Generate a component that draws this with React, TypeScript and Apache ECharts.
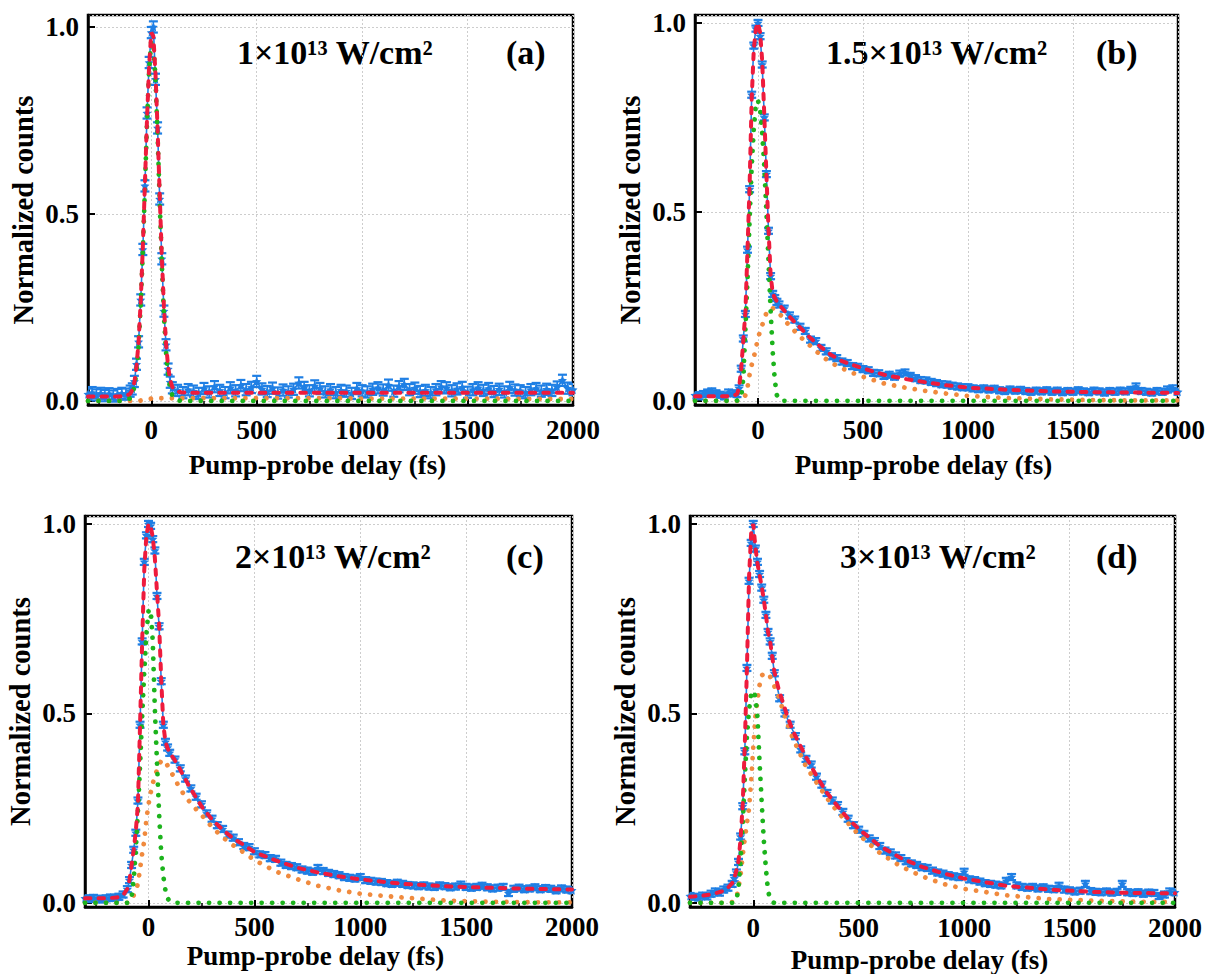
import React, { useEffect, useRef } from 'react';
import * as echarts from 'echarts';

// ---------- shared x grids (fs) ----------
const DELAY = [
  -300, -280, -260, -240, -220, -200, -180, -160, -140, -120, -100,
  -90, -80, -70, -60, -50, -40, -30, -20, -10, 0, 10, 20, 30, 40, 50, 60, 70, 80, 90,
  100, 125, 150, 175, 200, 225, 250, 275, 300, 325, 350, 375, 400, 425, 450, 475,
  500, 525, 550, 575, 600, 625, 650, 675, 700, 725, 750, 775, 800, 825, 850, 875,
  900, 925, 950, 975, 1000, 1025, 1050, 1075, 1100, 1125, 1150, 1175, 1200, 1225,
  1250, 1275, 1300, 1325, 1350, 1375, 1400, 1425, 1450, 1475, 1500, 1525, 1550,
  1575, 1600, 1625, 1650, 1675, 1700, 1725, 1750, 1775, 1800, 1825, 1850, 1875,
  1900, 1925, 1950, 1975, 2000,
];

const FIT_X = [
  -300, -250, -200, -150, -120, -100,
  -90, -80, -70, -60, -50, -40, -30, -20, -10,
  0, 10, 20, 30, 40, 50, 60, 70, 80, 90, 100,
  120, 140, 160, 180, 200,
  250, 300, 350, 400, 450, 500,
  600, 700, 800, 900, 1000,
  1200, 1400, 1600, 1800, 2000,
];

// ---------- panel (a) 1e13 ----------
const BLUE_A = [
  0.018, 0.022, 0.016, 0.02, 0.014, 0.019, 0.013, 0.017, 0.02, 0.018, 0.026,
  0.032, 0.052, 0.098, 0.158, 0.27, 0.405, 0.575, 0.77, 0.905, 0.985, 1.0, 0.86, 0.73, 0.54, 0.38, 0.24, 0.15, 0.085, 0.05,
  0.035,
  0.028, 0.022, 0.03, 0.026, 0.02, 0.033, 0.024, 0.038, 0.028, 0.022,
  0.035, 0.027, 0.041, 0.03, 0.036, 0.052, 0.032, 0.025, 0.034, 0.021,
  0.029, 0.024, 0.031, 0.048, 0.036, 0.027, 0.04, 0.033, 0.024, 0.03,
  0.022, 0.028, 0.026, 0.02, 0.033, 0.027, 0.024, 0.031, 0.035, 0.029,
  0.042, 0.026, 0.038, 0.044, 0.03, 0.034, 0.025, 0.028, 0.022, 0.03,
  0.038, 0.035, 0.027, 0.032, 0.036, 0.023, 0.03, 0.035, 0.028, 0.033,
  0.025, 0.031, 0.024, 0.036, 0.029, 0.027, 0.022, 0.03, 0.033, 0.026,
  0.031, 0.028, 0.037, 0.055, 0.034, 0.03,
];
const ERR_A = 0.015;
const RED_A = [
  0.012, 0.012, 0.012, 0.012, 0.013, 0.019,
  0.029, 0.05, 0.091, 0.16, 0.266, 0.411, 0.582, 0.757, 0.898,
  0.985, 0.975, 0.876, 0.727, 0.552, 0.386, 0.252, 0.154, 0.091, 0.055, 0.037,
  0.026, 0.023, 0.022, 0.022, 0.022,
  0.022, 0.022, 0.022, 0.022, 0.022, 0.022,
  0.022, 0.022, 0.022, 0.022, 0.022,
  0.022, 0.022, 0.022, 0.022, 0.022,
];
const GREEN_A = [
  0, 0, 0, 0, 0.001, 0.007,
  0.017, 0.038, 0.079, 0.148, 0.254, 0.399, 0.57, 0.745, 0.886,
  0.963, 0.954, 0.862, 0.711, 0.535, 0.367, 0.23, 0.131, 0.068, 0.032, 0.014,
  0.002, 0, 0, 0, 0,
  0, 0, 0, 0, 0, 0,
  0, 0, 0, 0, 0,
  0, 0, 0, 0, 0,
];
const ORANGE_A = [
  0, 0, 0, 0, 0, 0,
  0, 0, 0, 0, 0.001, 0.002, 0.003, 0.004, 0.005,
  0.006, 0.007, 0.007, 0.007, 0.007, 0.007, 0.007, 0.007, 0.007, 0.007, 0.007,
  0.007, 0.007, 0.007, 0.007, 0.007,
  0.007, 0.007, 0.007, 0.007, 0.007, 0.007,
  0.007, 0.007, 0.007, 0.007, 0.006,
  0.006, 0.006, 0.006, 0.005, 0.005,
];

// ---------- panel (b) 1.5e13 ----------
const BLUE_B = [
  0.015, 0.012, 0.018, 0.022, 0.025, 0.02, 0.016, 0.012, 0.022, 0.02, 0.018,
  0.033, 0.085, 0.165, 0.23, 0.4, 0.56, 0.81, 0.94, 0.985, 1.0, 0.965, 0.89, 0.75, 0.6, 0.45, 0.33, 0.283, 0.272, 0.262,
  0.255,
  0.244, 0.226, 0.215, 0.196, 0.185, 0.162, 0.158, 0.14, 0.131, 0.118,
  0.113, 0.104, 0.1, 0.092, 0.09, 0.084, 0.081, 0.074, 0.073, 0.066,
  0.069, 0.064, 0.072, 0.075, 0.066, 0.06, 0.055, 0.054, 0.05, 0.047,
  0.044, 0.043, 0.04, 0.038, 0.036, 0.036, 0.033, 0.031, 0.033, 0.03,
  0.032, 0.028, 0.026, 0.03, 0.027, 0.029, 0.026, 0.024, 0.027, 0.025,
  0.028, 0.024, 0.027, 0.023, 0.026, 0.024, 0.028, 0.025, 0.023, 0.027,
  0.025, 0.022, 0.026, 0.024, 0.027, 0.025, 0.029, 0.038, 0.026, 0.024,
  0.022, 0.026, 0.024, 0.03, 0.033, 0.024,
];
const ERR_B = 0.008;
const RED_B = [
  0.012, 0.012, 0.012, 0.012, 0.013, 0.018,
  0.035, 0.085, 0.16, 0.235, 0.4, 0.57, 0.8, 0.93, 0.985,
  1.0, 0.975, 0.9, 0.755, 0.6, 0.455, 0.335, 0.285, 0.272, 0.263, 0.255,
  0.242, 0.229, 0.217, 0.205, 0.194,
  0.166, 0.142, 0.121, 0.105, 0.095, 0.086,
  0.069, 0.058, 0.049, 0.041, 0.035,
  0.029, 0.025, 0.023, 0.022, 0.021,
];
const GREEN_B = [
  0, 0, 0, 0, 0, 0.001,
  0.003, 0.008, 0.06, 0.19, 0.32, 0.48, 0.62, 0.72, 0.785,
  0.795, 0.77, 0.71, 0.62, 0.5, 0.37, 0.24, 0.13, 0.055, 0.015, 0.003,
  0, 0, 0, 0, 0,
  0, 0, 0, 0, 0, 0,
  0, 0, 0, 0, 0,
  0, 0, 0, 0, 0,
];
const ORANGE_B = [
  0, 0, 0, 0, 0, 0,
  0.001, 0.002, 0.005, 0.015, 0.035, 0.07, 0.095, 0.115, 0.14,
  0.165, 0.185, 0.2, 0.218, 0.232, 0.242, 0.246, 0.245, 0.242, 0.237, 0.231,
  0.22, 0.205, 0.193, 0.181, 0.17,
  0.145, 0.12, 0.1, 0.086, 0.074, 0.064,
  0.046, 0.035, 0.026, 0.019, 0.013,
  0.007, 0.004, 0.002, 0.001, 0.001,
];

// ---------- panel (c) 2e13 ----------
const BLUE_C = [
  0.012, 0.01, 0.013, 0.011, 0.009, 0.012, 0.014, 0.013, 0.016, 0.022, 0.036,
  0.06, 0.1, 0.14, 0.185, 0.27, 0.47, 0.69, 0.9, 0.97, 1.0, 0.995, 0.96, 0.93, 0.81, 0.73, 0.585, 0.47, 0.425, 0.41,
  0.396,
  0.378, 0.355, 0.328, 0.302, 0.28, 0.26, 0.236, 0.222, 0.205, 0.195,
  0.18, 0.172, 0.16, 0.15, 0.147, 0.136, 0.128, 0.126, 0.118, 0.116,
  0.106, 0.1, 0.097, 0.094, 0.088, 0.085, 0.082, 0.092, 0.084, 0.079,
  0.076, 0.073, 0.068, 0.066, 0.064, 0.068, 0.06, 0.058, 0.056, 0.055,
  0.052, 0.05, 0.053, 0.05, 0.047, 0.046, 0.044, 0.046, 0.043, 0.042,
  0.046, 0.044, 0.041, 0.043, 0.048, 0.042, 0.04, 0.042, 0.045, 0.041,
  0.038, 0.04, 0.042, 0.026, 0.037, 0.04, 0.036, 0.038, 0.041, 0.036,
  0.039, 0.037, 0.033, 0.038, 0.035, 0.033,
];
const ERR_C = 0.008;
const RED_C = [
  0.012, 0.012, 0.012, 0.014, 0.02, 0.037,
  0.06, 0.1, 0.14, 0.19, 0.26, 0.47, 0.69, 0.88, 0.97,
  1.0, 0.995, 0.965, 0.91, 0.82, 0.735, 0.59, 0.47, 0.425, 0.408, 0.396,
  0.38, 0.362, 0.34, 0.32, 0.3,
  0.255, 0.22, 0.193, 0.17, 0.153, 0.134,
  0.112, 0.093, 0.08, 0.07, 0.062,
  0.05, 0.044, 0.04, 0.037, 0.035,
];
const GREEN_C = [
  0, 0, 0, 0, 0, 0,
  0.002, 0.015, 0.06, 0.14, 0.24, 0.36, 0.49, 0.61, 0.71,
  0.77, 0.775, 0.69, 0.51, 0.37, 0.235, 0.13, 0.07, 0.032, 0.012, 0.004,
  0, 0, 0, 0, 0,
  0, 0, 0, 0, 0, 0,
  0, 0, 0, 0, 0,
  0, 0, 0, 0, 0,
];
const ORANGE_C = [
  0, 0, 0, 0, 0, 0,
  0.002, 0.008, 0.02, 0.035, 0.05, 0.09, 0.13, 0.165, 0.22,
  0.26, 0.29, 0.315, 0.335, 0.35, 0.365, 0.375, 0.377, 0.372, 0.362, 0.35,
  0.333, 0.31, 0.292, 0.277, 0.262,
  0.232, 0.2, 0.173, 0.152, 0.133, 0.113,
  0.083, 0.063, 0.045, 0.033, 0.024,
  0.014, 0.006, 0.003, 0.0015, 0.001,
];

// ---------- panel (d) 3e13 ----------
const BLUE_D = [
  0.018, 0.016, 0.014, 0.019, 0.017, 0.024, 0.03, 0.027, 0.035, 0.04, 0.05,
  0.065, 0.08, 0.108, 0.175, 0.255, 0.4, 0.62, 0.85, 0.95, 1.0, 0.935, 0.9, 0.868, 0.832, 0.8, 0.76, 0.715, 0.69, 0.652,
  0.606,
  0.54, 0.5, 0.47, 0.44, 0.405, 0.38, 0.365, 0.333, 0.312, 0.29,
  0.27, 0.258, 0.24, 0.222, 0.205, 0.193, 0.182, 0.17, 0.163, 0.15,
  0.138, 0.133, 0.125, 0.118, 0.11, 0.104, 0.1, 0.094, 0.092, 0.085,
  0.08, 0.077, 0.073, 0.07, 0.068, 0.082, 0.062, 0.06, 0.056, 0.052,
  0.05, 0.048, 0.046, 0.058, 0.068, 0.046, 0.042, 0.04, 0.042, 0.038,
  0.041, 0.037, 0.036, 0.045, 0.035, 0.033, 0.03, 0.032, 0.05, 0.031,
  0.029, 0.028, 0.03, 0.027, 0.029, 0.05, 0.028, 0.026, 0.028, 0.024,
  0.027, 0.026, 0.018, 0.022, 0.03, 0.028,
];
const ERR_D = 0.008;
const RED_D = [
  0.016, 0.018, 0.022, 0.03, 0.04, 0.052,
  0.065, 0.085, 0.11, 0.17, 0.26, 0.42, 0.62, 0.86, 0.975,
  1.0, 0.94, 0.895, 0.865, 0.835, 0.8, 0.76, 0.715, 0.69, 0.65, 0.61,
  0.565, 0.53, 0.495, 0.465, 0.44,
  0.385, 0.335, 0.29, 0.255, 0.222, 0.195,
  0.15, 0.118, 0.095, 0.078, 0.064,
  0.045, 0.035, 0.029, 0.026, 0.025,
];
const GREEN_D = [
  0, 0, 0, 0, 0, 0,
  0.002, 0.006, 0.04, 0.113, 0.21, 0.33, 0.44, 0.51, 0.55,
  0.56, 0.545, 0.49, 0.37, 0.265, 0.165, 0.09, 0.032, 0.01, 0.002, 0,
  0, 0, 0, 0, 0,
  0, 0, 0, 0, 0, 0,
  0, 0, 0, 0, 0,
  0, 0, 0, 0, 0,
];
const ORANGE_D = [
  0, 0, 0, 0, 0, 0.002,
  0.005, 0.012, 0.04, 0.075, 0.125, 0.17, 0.21, 0.25, 0.32,
  0.41, 0.49, 0.535, 0.575, 0.6, 0.605, 0.607, 0.605, 0.597, 0.585, 0.572,
  0.545, 0.51, 0.475, 0.445, 0.42,
  0.36, 0.318, 0.276, 0.24, 0.21, 0.18,
  0.132, 0.096, 0.07, 0.05, 0.037,
  0.02, 0.01, 0.006, 0.003, 0.002,
];

const INTENSITY_LABELS = ['1×10¹³ W/cm²', '1.5×10¹³ W/cm²', '2×10¹³ W/cm²', '3×10¹³ W/cm²'];
const PANEL_TAGS = ['(a)', '(b)', '(c)', '(d)'];
const X_TITLE = 'Pump-probe delay (fs)';
const Y_TITLE = 'Normalized counts';

// ---------- styling / layout ----------
const FONT = '"Liberation Serif", "Times New Roman", Times, serif';
const BLUE = '#1f7fe4';
const RED = '#ee1b3d';
const GREEN = '#1cb31c';
const ORANGE = '#f08a3e';
const STAR =
  'path://M0,-10L2.9,-4L9.5,-3.1L4.7,1.5L5.9,8.1L0,5L-5.9,8.1L-4.7,1.5L-9.5,-3.1L-2.9,-4Z';

const LAYOUT = [
  { left: 88, top: 15, width: 485, height: 390, yMax: 1.032, lblM: 11, nameGap: 46, labelX: 237, tagX: 506, textY: 52 },
  { left: 695, top: 15, width: 483, height: 390, yMax: 1.021, lblM: 11, nameGap: 46, labelX: 826, tagX: 1096, textY: 52 },
  { left: 85, top: 516, width: 487, height: 391, yMax: 1.021, lblM: 6, nameGap: 35, labelX: 235, tagX: 506, textY: 556 },
  { left: 690, top: 516, width: 485, height: 391, yMax: 1.021, lblM: 7, nameGap: 39, labelX: 840, tagX: 1096, textY: 556 },
];

const PANEL_DATA = [
  { blue: BLUE_A, err: ERR_A, red: RED_A, green: GREEN_A, orange: ORANGE_A },
  { blue: BLUE_B, err: ERR_B, red: RED_B, green: GREEN_B, orange: ORANGE_B },
  { blue: BLUE_C, err: ERR_C, red: RED_C, green: GREEN_C, orange: ORANGE_C },
  { blue: BLUE_D, err: ERR_D, red: RED_D, green: GREEN_D, orange: ORANGE_D },
];

function buildOption() {
  const textStyle = { fontFamily: FONT, fontWeight: 'bold' as const, fontSize: 27, color: '#000' };
  const grids: any[] = [];
  const xAxes: any[] = [];
  const yAxes: any[] = [];
  const series: any[] = [];
  const graphics: any[] = [];

  LAYOUT.forEach((L, i) => {
    grids.push({
      left: L.left, top: L.top, width: L.width, height: L.height,
      show: true, borderColor: '#000', borderWidth: 2.5, backgroundColor: 'transparent',
    });
    xAxes.push({
      type: 'value', gridIndex: i, min: -300, max: 2000, splitNumber: 5,
      name: X_TITLE, nameLocation: 'middle', nameGap: L.nameGap,
      nameTextStyle: { ...textStyle, padding: [0, 26, 0, 0] },
      axisLine: { show: true, onZero: false, lineStyle: { color: '#000', width: 2.5 } },
      axisTick: { show: true, inside: true, length: 7, lineStyle: { color: '#000', width: 2 } },
      minorTick: { show: true, splitNumber: 2, length: 4, lineStyle: { color: '#000', width: 1.5 } },
      axisLabel: { ...textStyle, margin: L.lblM, showMinLabel: false, formatter: (v: number) => String(v) },
      splitLine: { show: true, lineStyle: { color: '#cdcdcd', type: [2, 2], width: 1 } },
    });
    yAxes.push({
      type: 'value', gridIndex: i, min: -0.011, max: L.yMax, splitNumber: 2,
      name: Y_TITLE, nameLocation: 'middle', nameGap: 50, nameRotate: 90,
      nameTextStyle: { ...textStyle, fontSize: 28.5 },
      axisLine: { show: true, onZero: false, lineStyle: { color: '#000', width: 2.5 } },
      axisTick: { show: true, inside: true, length: 7, lineStyle: { color: '#000', width: 2 } },
      axisLabel: {
        ...textStyle, margin: 9, showMinLabel: false, showMaxLabel: false,
        formatter: (v: number) => v.toFixed(1),
      },
      splitLine: { show: true, lineStyle: { color: '#cdcdcd', type: [2, 2], width: 1 } },
    });

    const P = PANEL_DATA[i];
    series.push({
      type: 'custom', xAxisIndex: i, yAxisIndex: i, silent: true, z: 2, clip: true,
      data: DELAY.map((x, k) => [x, P.blue[k], P.err]),
      renderItem: (params: any, api: any) => {
        const x = api.value(0);
        const y = api.value(1);
        const e = api.value(2);
        const top = api.coord([x, y + e]);
        const bot = api.coord([x, y - e]);
        const hw = 4.5;
        return {
          type: 'group',
          children: [
            { type: 'line', shape: { x1: top[0], y1: top[1], x2: bot[0], y2: bot[1] }, style: { stroke: BLUE, lineWidth: 1.6 } },
            { type: 'line', shape: { x1: top[0] - hw, y1: top[1], x2: top[0] + hw, y2: top[1] }, style: { stroke: BLUE, lineWidth: 2.2 } },
            { type: 'line', shape: { x1: bot[0] - hw, y1: bot[1], x2: bot[0] + hw, y2: bot[1] }, style: { stroke: BLUE, lineWidth: 2.2 } },
          ],
        };
      },
    });
    series.push({
      type: 'line', xAxisIndex: i, yAxisIndex: i, silent: true, z: 3,
      data: DELAY.map((x, k) => [x, P.blue[k]]),
      symbol: STAR, symbolSize: 9, showAllSymbol: true,
      itemStyle: { color: BLUE },
      lineStyle: { color: BLUE, width: 1.6 },
    });
    series.push({
      type: 'line', xAxisIndex: i, yAxisIndex: i, silent: true, z: 4, showSymbol: false,
      data: FIT_X.map((x, k) => [x, P.orange[k]]),
      lineStyle: { color: ORANGE, width: 4.8, type: [0.01, 10.5], cap: 'round' },
    });
    series.push({
      type: 'line', xAxisIndex: i, yAxisIndex: i, silent: true, z: 5, showSymbol: false,
      data: FIT_X.map((x, k) => [x, P.green[k]]),
      lineStyle: { color: GREEN, width: 4.8, type: [0.01, 10.5], cap: 'round' },
    });
    series.push({
      type: 'line', xAxisIndex: i, yAxisIndex: i, silent: true, z: 6, showSymbol: false,
      data: FIT_X.map((x, k) => [x, P.red[k]]),
      lineStyle: { color: RED, width: 4, type: [5.5, 8], cap: 'round' },
    });

    graphics.push({
      type: 'text', x: L.labelX, y: L.textY, silent: true,
      style: { text: INTENSITY_LABELS[i], font: `bold 34px ${FONT}`, fill: '#000', verticalAlign: 'middle' },
    });
    graphics.push({
      type: 'text', x: L.tagX, y: L.textY, silent: true,
      style: { text: PANEL_TAGS[i], font: `bold 34px ${FONT}`, fill: '#000', verticalAlign: 'middle' },
    });
  });

  return {
    animation: false,
    backgroundColor: '#ffffff',
    grid: grids,
    xAxis: xAxes,
    yAxis: yAxes,
    series,
    graphic: { elements: graphics },
  };
}

export default function App() {
  const ref = useRef<HTMLDivElement>(null);
  useEffect(() => {
    if (!ref.current) return;
    const chart = echarts.init(ref.current, null, { renderer: 'svg' });
    chart.setOption(buildOption() as any);
    return () => chart.dispose();
  }, []);
  return (
    <div
      ref={ref}
      style={{ position: 'absolute', left: 0, top: 0, width: 1209, height: 974, background: '#fff' }}
    />
  );
}
